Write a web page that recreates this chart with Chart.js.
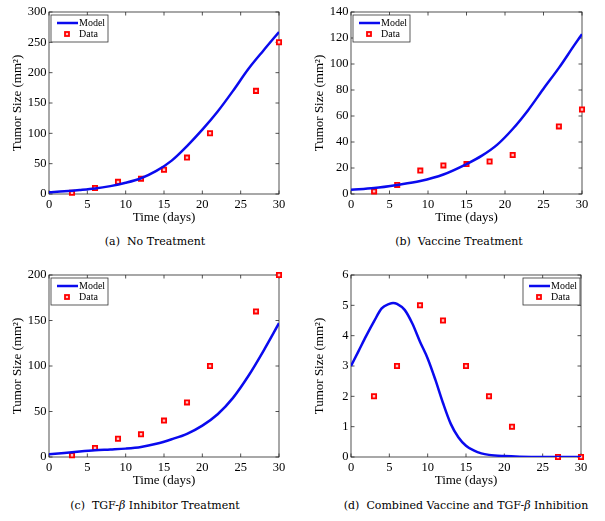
<!DOCTYPE html>
<html>
<head>
<meta charset="utf-8">
<script src="https://cdn.jsdelivr.net/npm/chart.js@4.4.1/dist/chart.umd.min.js"></script>
<style>
  body { margin: 0; background: #fff; width: 605px; height: 521px; position: relative; overflow: hidden; }
  canvas { position: absolute; }
  .cap { position: absolute; width: 320px; text-align: center; font: 11px "DejaVu Serif", serif; line-height: 14px; color: #000; white-space: nowrap; }
</style>
</head>
<body>
<canvas id="chartA" style="left:0;top:0;width:302px;height:232px"></canvas>
<canvas id="chartB" style="left:302px;top:0;width:303px;height:232px"></canvas>
<canvas id="chartC" style="left:0;top:263px;width:302px;height:232px"></canvas>
<canvas id="chartD" style="left:302px;top:263px;width:303px;height:232px"></canvas>
<div class="cap" style="left:-5px;top:235px">(a)&nbsp; No Treatment</div>
<div class="cap" style="left:299px;top:235px">(b)&nbsp; Vaccine Treatment</div>
<div class="cap" style="left:-5px;top:499px">(c)&nbsp; TGF-<i>β</i> Inhibitor Treatment</div>
<div class="cap" style="left:306px;top:499px">(d)&nbsp; Combined Vaccine and TGF-<i>β</i> Inhibition</div>
<script>
// measured days (same for every panel)
const dataDays = [3, 6, 9, 12, 15, 18, 21, 27, 30];

// (a) no treatment
const dataA = [2, 10, 20, 25, 40, 60, 100, 170, 250];
const modelDaysA = [0, 2, 4, 6, 8, 10, 12, 14, 16, 18, 20, 22, 24, 26, 28, 30];
const modelA = [3, 4.5, 6.5, 9, 13, 18.5, 26, 38, 55, 79, 106, 136, 170, 206, 237, 267];

// (b) vaccine
const dataB = [2, 7, 18, 22, 23, 25, 30, 52, 65];
const modelDaysB = [0, 3, 6, 9, 12, 15, 17, 19, 21, 23, 25, 27, 29, 30];
const modelB = [3.2, 4.6, 7, 10, 15, 23, 29.5, 38, 50, 64.5, 81, 97, 114.5, 123];

// (c) TGF-beta inhibitor
const dataC = [2, 10, 20, 25, 40, 60, 100, 160, 200];
const modelDaysC = [0, 2, 4, 6, 8, 10, 12, 14, 16, 18, 20, 22, 24, 26, 28, 30];
const modelC = [3, 4.5, 6, 7.3, 8.2, 9.2, 11, 14.5, 19.5, 25.5, 34.5, 47, 65, 89, 117, 147];

// (d) combined
const dataD = [2, 3, 5, 4.5, 3, 2, 1, 0, 0];
const modelDaysD = [0, 1, 2, 3, 4, 5, 5.5, 6, 7, 8, 9, 10, 11, 12, 13, 14, 15, 16, 17, 18, 20, 22, 25, 30];
const modelD = [3, 3.5, 4, 4.47, 4.9, 5.05, 5.08, 5.05, 4.85, 4.4, 3.8, 3.25, 2.55, 1.78, 1.1, 0.65, 0.37, 0.22, 0.12, 0.07, 0.03, 0.01, 0, 0];

const xTicks = { min: 0, max: 30, step: 5 };

const tickFont = { family: '"Liberation Serif", serif', size: 12.5, weight: 'normal' };
const titleFont = { family: '"Liberation Serif", serif', size: 13, weight: 'normal' };

// box around the axes with inward ticks on all four sides
const frame = {
  id: 'frame',
  beforeDatasetsDraw(chart) {
    const { ctx, chartArea: a, scales: { x, y } } = chart;
    ctx.save();
    ctx.strokeStyle = '#262626';
    ctx.lineWidth = 0.8;
    ctx.strokeRect(a.left, a.top, a.right - a.left, a.bottom - a.top);
    ctx.beginPath();
    x.ticks.forEach(t => {
      const px = x.getPixelForValue(t.value);
      ctx.moveTo(px, a.bottom); ctx.lineTo(px, a.bottom - 3.5);
      ctx.moveTo(px, a.top); ctx.lineTo(px, a.top + 3.5);
    });
    y.ticks.forEach(t => {
      const py = y.getPixelForValue(t.value);
      ctx.moveTo(a.left, py); ctx.lineTo(a.left + 3.5, py);
      ctx.moveTo(a.right, py); ctx.lineTo(a.right - 3.5, py);
    });
    ctx.stroke();
    ctx.restore();
  }
};

// matlab style legend box inside the axes
const boxLegend = {
  id: 'boxLegend',
  afterDatasetsDraw(chart, args, opts) {
    const { ctx, chartArea: a } = chart;
    const w = 57, h = 27;
    const left = opts.side === 'right' ? a.right - w - 1 : a.left + 2;
    const top = a.top + 3;
    ctx.save();
    ctx.fillStyle = '#fff';
    ctx.fillRect(left, top, w, h);
    ctx.strokeStyle = '#333';
    ctx.lineWidth = 0.8;
    ctx.strokeRect(left, top, w, h);
    ctx.font = '10px "Liberation Serif", serif';
    ctx.textBaseline = 'middle';
    chart.data.datasets.forEach((ds, i) => {
      const cy = top + 8 + i * 11;
      if (ds.showLine) {
        ctx.strokeStyle = ds.borderColor;
        ctx.lineWidth = ds.borderWidth;
        ctx.beginPath();
        ctx.moveTo(left + 6, cy); ctx.lineTo(left + 27, cy);
        ctx.stroke();
      } else {
        ctx.fillStyle = ds.pointBackgroundColor;
        ctx.strokeStyle = ds.pointBorderColor;
        ctx.lineWidth = ds.pointBorderWidth;
        ctx.fillRect(left + 14, cy - 2, 4, 4);
        ctx.strokeRect(left + 14, cy - 2, 4, 4);
      }
      ctx.fillStyle = '#000';
      ctx.fillText(ds.label, left + 28, cy);
    });
    ctx.restore();
  }
};

function makeChart(id, modelDays, model, data, yMax, yStep, side, rightPad) {
  new Chart(document.getElementById(id), {
    type: 'scatter',
    data: {
      datasets: [
        {
          label: 'Model',
          data: modelDays.map((d, i) => ({ x: d, y: model[i] })),
          showLine: true,
          borderColor: '#0a0aee',
          borderWidth: 2.5,
          pointRadius: 0,
          cubicInterpolationMode: 'monotone'
        },
        {
          label: 'Data',
          data: dataDays.map((d, i) => ({ x: d, y: data[i] })),
          showLine: false,
          pointStyle: 'rect',
          pointRadius: 3,
          pointBorderWidth: 1.8,
          pointBorderColor: '#ff0000',
          pointBackgroundColor: '#ffc4c4',
          clip: false
        }
      ]
    },
    options: {
      responsive: false,
      animation: false,
      events: [],
      layout: { padding: { left: 0, top: 12, right: rightPad, bottom: 0 } },
      plugins: {
        legend: { display: false },
        tooltip: { enabled: false },
        boxLegend: { side: side }
      },
      scales: {
        x: {
          type: 'linear',
          min: xTicks.min,
          max: xTicks.max,
          ticks: { stepSize: xTicks.step, font: tickFont, color: '#000', padding: 3 },
          grid: { display: false, drawTicks: false },
          border: { display: false },
          title: { display: true, text: 'Time (days)', font: titleFont, color: '#000', padding: { top: 0, bottom: 7 } },
          afterFit(s) { s.height = 38; s.paddingLeft = 0; s.paddingRight = 0; }
        },
        y: {
          min: 0,
          max: yMax,
          ticks: { stepSize: yStep, font: tickFont, color: '#000', padding: 2.5 },
          grid: { display: false, drawTicks: false },
          border: { display: false },
          title: { display: true, text: 'Tumor Size (mm²)', font: titleFont, color: '#000', padding: { top: 10, bottom: 0 } },
          afterFit(s) { s.width = 49; s.paddingTop = 0; s.paddingBottom = 0; }
        }
      }
    },
    plugins: [frame, boxLegend]
  });
}

makeChart('chartA', modelDaysA, modelA, dataA, 300, 50, 'left', 23);
makeChart('chartB', modelDaysB, modelB, dataB, 140, 20, 'left', 23);
makeChart('chartC', modelDaysC, modelC, dataC, 200, 50, 'left', 23);
makeChart('chartD', modelDaysD, modelD, dataD, 6, 1, 'right', 24);
</script>
</body>
</html>
